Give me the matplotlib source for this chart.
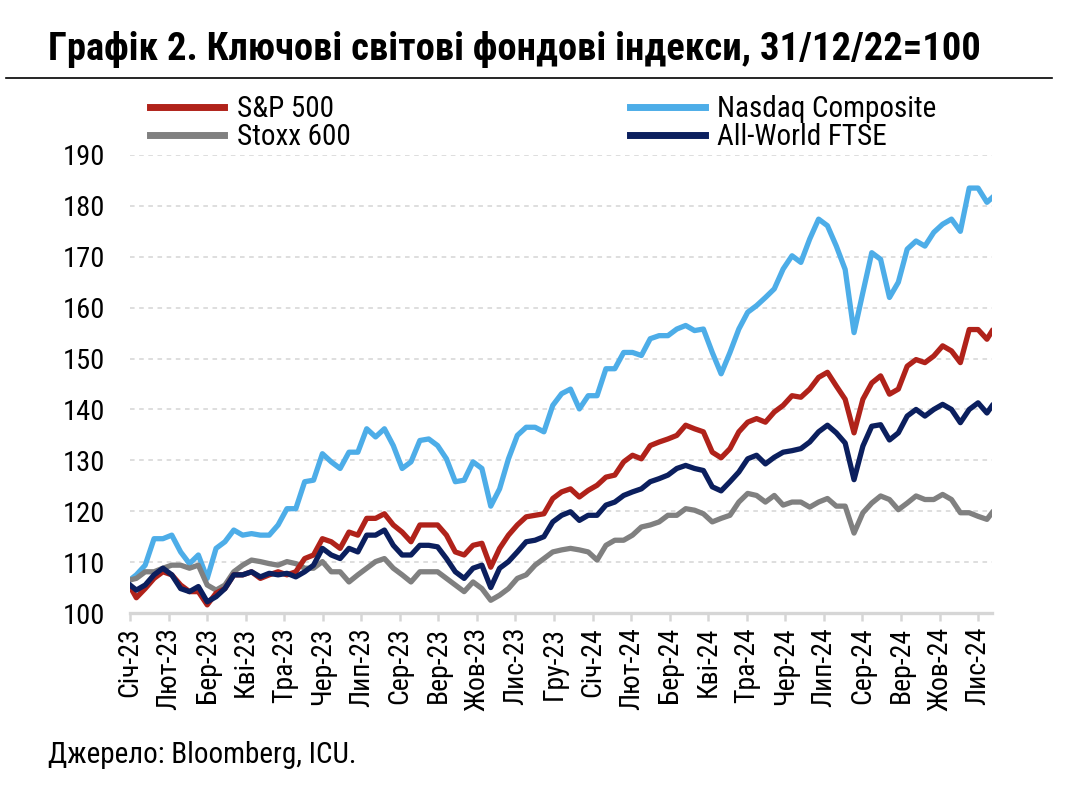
import pandas as pd
import matplotlib.pyplot as plt
from matplotlib.lines import Line2D

plt.rcParams['font.family'] = ['Roboto Condensed', 'PT Sans Narrow', 'IBM Plex Sans Condensed',
                               'DejaVu Sans']

# weekly samples (first and last point added)
dates = ([pd.Timestamp('2023-01-12')]
         + list(pd.date_range('2023-01-17', periods=97, freq='7D'))
         + [pd.Timestamp('2024-11-23')])

nasdaq = [106.5,
          107.5, 109.4, 114.6, 114.6, 115.3, 112.0, 109.7, 111.4, 106.8, 112.7,
          114.0, 116.3, 115.3, 115.6, 115.3, 115.3, 117.3, 120.5, 120.5, 125.8,
          126.1, 131.3, 129.7, 128.4, 131.6, 131.6, 136.2, 134.6, 136.2, 132.9,
          128.4, 129.7, 133.9, 134.2, 132.9, 130.3, 125.8, 126.1, 129.7, 128.4,
          121.0, 124.4, 130.3, 134.9, 136.5, 136.5, 135.6, 140.8, 143.1, 144.0,
          140.1, 142.7, 142.7, 148.0, 148.0, 151.2, 151.2, 150.6, 153.9, 154.5,
          154.5, 155.8, 156.5, 155.5, 155.8, 151.2, 147.0, 151.2, 155.8, 159.1,
          160.4, 162.0, 163.7, 167.6, 170.2, 168.9, 173.5, 177.4, 176.1, 172.1,
          167.5, 155.1, 163.0, 170.8, 169.5, 162.0, 165.0, 171.5, 173.1, 172.1,
          174.8, 176.4, 177.4, 175.0, 183.5, 183.5, 180.7,
          181.6]

sp500 = [105.2,
         103.0, 104.8, 106.8, 108.1, 107.5, 105.5, 104.2, 104.2, 101.6, 103.9,
         104.8, 107.5, 107.5, 108.1, 106.8, 107.5, 108.1, 107.5, 108.1, 110.7,
         111.4, 114.6, 114.0, 112.7, 115.9, 115.3, 118.6, 118.6, 119.5, 117.3,
         115.9, 114.0, 117.3, 117.3, 117.3, 115.3, 112.0, 111.4, 113.3, 113.7,
         109.0, 112.7, 115.3, 117.3, 118.9, 119.2, 119.5, 122.5, 123.8, 124.4,
         122.8, 124.1, 125.1, 126.7, 127.1, 129.7, 131.0, 130.3, 132.9, 133.6,
         134.2, 134.9, 136.9, 136.2, 135.6, 131.6, 130.5, 132.3, 135.6, 137.5,
         138.2, 137.5, 139.5, 140.8, 142.7, 142.4, 144.0, 146.3, 147.3, 144.6,
         142.0, 135.4, 142.0, 145.2, 146.6, 143.0, 144.0, 148.5, 149.8, 149.2,
         150.5, 152.5, 151.5, 149.2, 155.7, 155.7, 153.8,
         155.4]

ftse_aw = [105.5,
           104.5, 105.5, 107.5, 108.8, 107.5, 104.8, 104.2, 105.2, 102.2, 103.2,
           104.8, 107.5, 107.5, 108.1, 107.1, 107.8, 107.5, 107.8, 107.1, 108.1,
           109.4, 112.7, 111.4, 110.7, 112.7, 112.0, 115.3, 115.3, 116.3, 113.3,
           111.4, 111.4, 113.3, 113.3, 113.0, 110.7, 108.1, 106.8, 108.8, 109.4,
           105.0, 108.8, 110.1, 112.0, 114.0, 114.3, 115.0, 117.9, 119.2, 119.9,
           118.2, 119.2, 119.2, 121.2, 121.8, 123.1, 123.8, 124.4, 125.8, 126.4,
           127.1, 128.4, 129.0, 128.4, 128.0, 124.8, 124.0, 125.8, 127.7, 130.3,
           131.0, 129.3, 130.6, 131.6, 131.9, 132.3, 133.6, 135.6, 136.9, 135.4,
           133.4, 126.2, 132.8, 136.7, 137.0, 134.0, 135.4, 138.7, 140.0, 138.7,
           140.0, 141.0, 140.0, 137.4, 140.0, 141.3, 139.3,
           140.7]

stoxx600 = [106.5,
            106.8, 108.1, 108.1, 108.8, 109.4, 109.4, 108.8, 109.4, 105.5, 104.5,
            105.5, 108.1, 109.4, 110.4, 110.1, 109.7, 109.4, 110.1, 109.7, 108.8,
            108.8, 110.1, 108.1, 108.1, 106.1, 107.5, 108.8, 110.1, 110.7, 108.8,
            107.5, 106.1, 108.1, 108.1, 108.1, 106.8, 105.5, 104.2, 106.1, 104.8,
            102.5, 103.5, 104.8, 106.8, 107.5, 109.4, 110.7, 112.0, 112.4, 112.7,
            112.4, 112.0, 110.4, 113.3, 114.3, 114.3, 115.3, 116.9, 117.3, 117.9,
            119.2, 119.2, 120.5, 120.2, 119.5, 117.9, 118.6, 119.2, 121.8, 123.5,
            123.1, 121.8, 123.1, 121.2, 121.8, 121.8, 120.8, 121.8, 122.5, 121.0,
            121.0, 115.7, 119.7, 121.6, 123.0, 122.3, 120.3, 121.6, 123.0, 122.3,
            122.3, 123.3, 122.3, 119.7, 119.7, 119.0, 118.4,
            119.7]

month_labels = ['Січ-23', 'Лют-23', 'Бер-23', 'Кві-23', 'Тра-23', 'Чер-23',
                'Лип-23', 'Сер-23', 'Вер-23', 'Жов-23', 'Лис-23', 'Гру-23',
                'Січ-24', 'Лют-24', 'Бер-24', 'Кві-24', 'Тра-24', 'Чер-24',
                'Лип-24', 'Сер-24', 'Вер-24', 'Жов-24', 'Лис-24']

c_red = '#B0221A'
c_blue = '#4DADE8'
c_grey = '#808080'
c_navy = '#0B1F5E'

fig = plt.figure(figsize=(10.78, 8), dpi=100)
ax = fig.add_axes([130/1078, 1-613/800, 862/1078, 458/800])

lw = 3.8
ax.plot(dates, nasdaq, color=c_blue, lw=lw, solid_joinstyle='round')
ax.plot(dates, stoxx600, color=c_grey, lw=lw, solid_joinstyle='round')
ax.plot(dates, sp500, color=c_red, lw=lw, solid_joinstyle='round')
ax.plot(dates, ftse_aw, color=c_navy, lw=lw, solid_joinstyle='round')

start = dates[0]
ax.set_xlim(start, start + pd.Timedelta(days=681))
ax.set_ylim(100, 190)
ax.set_yticks(range(100, 191, 10))
ticks = [start + pd.Timedelta(days=k*670/22) for k in range(len(month_labels))]
ax.set_xticks(ticks)
ax.set_xticklabels(month_labels, rotation=90)

ax.grid(axis='y', color='#d4d4d4', ls=(0, (3, 3)), lw=1.1)
ax.set_axisbelow(True)
for s in ['top', 'right', 'left']:
    ax.spines[s].set_visible(False)
ax.spines['bottom'].set_color('#d6d6d6')
ax.spines['bottom'].set_linewidth(2.4)
ax.tick_params(axis='x', colors='#d6d6d6', length=6, width=1.8, labelcolor='black',
               labelsize=20, pad=4)
ax.tick_params(axis='y', length=0, labelsize=20.5, pad=18)

# title, rule and source
fig.text(48/1078, 1-31/800, 'Графік 2. Ключові світові фондові індекси, 31/12/22=100',
         fontsize=27.8, fontweight='bold', va='top', ha='left')
fig.add_artist(Line2D([6/1078, 1052/1078], [1-78/800, 1-78/800], color='black', lw=1.2))
fig.text(48/1078, 1-755/800, 'Джерело: Bloomberg, ICU.', fontsize=21, va='center', ha='left')

handles = [Line2D([], [], color=c_red, lw=5), Line2D([], [], color=c_grey, lw=5),
           Line2D([], [], color=c_blue, lw=5), Line2D([], [], color=c_navy, lw=5)]
labels = ['S&P 500', 'Stoxx 600', 'Nasdaq Composite', 'All-World FTSE']
fig.legend(handles, labels, ncol=2, loc='upper left', bbox_to_anchor=(150/1078, 1-95/800),
           frameon=False, fontsize=21, handlelength=2.55, handletextpad=0.42,
           columnspacing=9.6, labelspacing=0.0, borderpad=0, borderaxespad=0)

fig.savefig('out.png', dpi=100)
